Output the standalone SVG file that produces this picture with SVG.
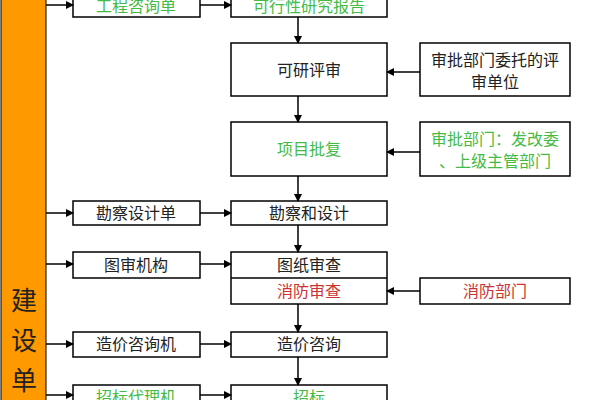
<svg xmlns="http://www.w3.org/2000/svg" width="600" height="400" viewBox="0 0 600 400">
<style>
rect.b{fill:#fff;stroke:#000;stroke-width:1.5}
text{font-family:"Noto Sans CJK SC",sans-serif;font-size:16px;text-anchor:middle;fill:#222}
.g{fill:#44bb44}.r{fill:#cc3333}
line{stroke:#000;stroke-width:1.5;marker-end:url(#a)}
</style>
<defs><marker id="a" markerWidth="8" markerHeight="8" refX="7" refY="4" orient="auto" markerUnits="userSpaceOnUse"><path d="M0,0L8,4L0,8z" fill="#000"/></marker></defs>
<rect width="600" height="400" fill="#fff"/>
<g id="bar"><rect x="1" y="-2" width="45" height="404" fill="#ff9900" stroke="#000" stroke-width="1"/>
<text x="24" y="310" style="font-size:26px">建</text><text x="24" y="350" style="font-size:26px">设</text><text x="24" y="390" style="font-size:26px">单</text></g>
<g id="n1"><rect class="b" x="73" y="-4" width="127" height="21"/><text class="g" x="136" y="12">工程咨询单</text></g>
<g id="n2"><rect class="b" x="231" y="-4" width="156" height="21"/><text class="g" x="309" y="12">可行性研究报告</text></g>
<g id="n3"><rect class="b" x="231" y="43" width="156" height="53"/><text x="309" y="76">可研评审</text></g>
<g id="n4"><rect class="b" x="420" y="43" width="150" height="53"/><text x="495" y="66">审批部门委托的评</text><text x="495" y="88">审单位</text></g>
<g id="n5"><rect class="b" x="231" y="122" width="156" height="54"/><text class="g" x="309" y="155">项目批复</text></g>
<g id="n6"><rect class="b" x="420" y="122" width="150" height="54"/><text class="g" x="495" y="145">审批部门：发改委</text><text class="g" x="495" y="167">、上级主管部门</text></g>
<g id="n7"><rect class="b" x="73" y="201" width="127" height="24"/><text x="136" y="219">勘察设计单</text></g>
<g id="n8"><rect class="b" x="231" y="201" width="156" height="24"/><text x="309" y="219">勘察和设计</text></g>
<g id="n9"><rect class="b" x="73" y="252" width="127" height="26"/><text x="136" y="271">图审机构</text></g>
<g id="n10"><rect class="b" x="231" y="252" width="156" height="52"/><line x1="231" y1="278" x2="387" y2="278" style="marker-end:none"/><text x="309" y="271">图纸审查</text><text class="r" x="309" y="297">消防审查</text></g>
<g id="n11"><rect class="b" x="420" y="278" width="150" height="26"/><text class="r" x="495" y="297">消防部门</text></g>
<g id="n12"><rect class="b" x="73" y="332" width="127" height="25"/><text x="136" y="350">造价咨询机</text></g>
<g id="n13"><rect class="b" x="231" y="332" width="156" height="25"/><text x="309" y="350">造价咨询</text></g>
<g id="n14"><rect class="b" x="73" y="385" width="127" height="25"/><text class="g" x="136" y="403">招标代理机</text></g>
<g id="n15"><rect class="b" x="231" y="385" width="156" height="25"/><text class="g" x="309" y="403">招标</text></g>
<g id="edges">
<line x1="46" y1="5" x2="73" y2="5"/><line x1="200" y1="5" x2="231" y2="5"/>
<line x1="298" y1="17" x2="298" y2="43"/><line x1="298" y1="96" x2="298" y2="122"/>
<line x1="298" y1="176" x2="298" y2="201"/><line x1="298" y1="225" x2="298" y2="252"/>
<line x1="298" y1="304" x2="298" y2="332"/><line x1="298" y1="357" x2="298" y2="385"/>
<line x1="420" y1="72" x2="387" y2="72"/><line x1="420" y1="152" x2="387" y2="152"/><line x1="420" y1="291" x2="387" y2="291"/>
<line x1="46" y1="213" x2="73" y2="213"/><line x1="200" y1="213" x2="231" y2="213"/>
<line x1="46" y1="264" x2="73" y2="264"/><line x1="200" y1="264" x2="231" y2="264"/>
<line x1="46" y1="344" x2="73" y2="344"/><line x1="200" y1="344" x2="231" y2="344"/>
<line x1="46" y1="395" x2="73" y2="395"/><line x1="200" y1="395" x2="231" y2="395"/>
</g>
</svg>
